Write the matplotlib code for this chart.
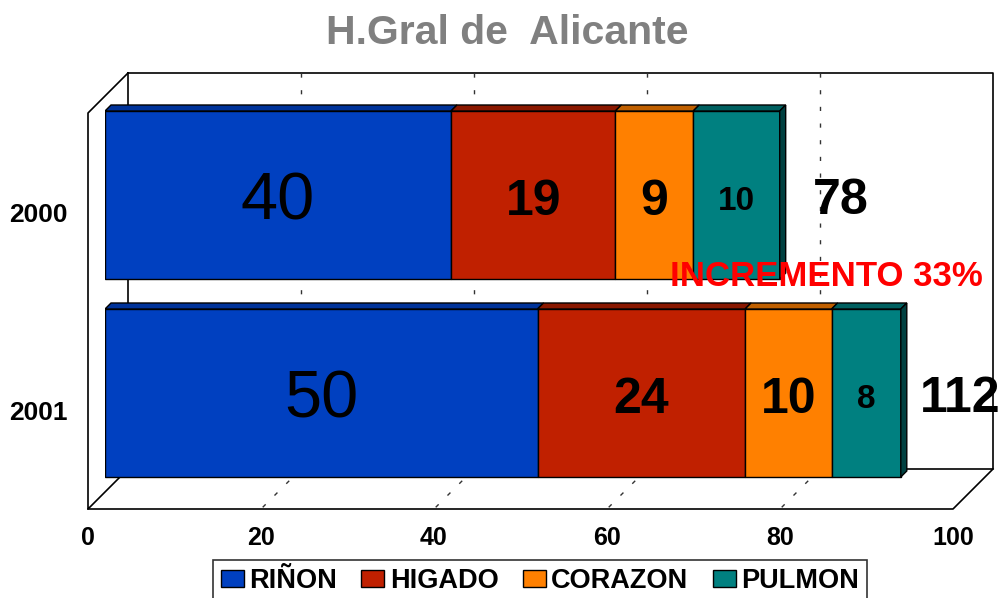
import numpy as np
import matplotlib
matplotlib.use("Agg")
import matplotlib.pyplot as plt
from matplotlib.patches import Polygon, Patch

plt.rcParams['font.family'] = ['Liberation Sans', 'DejaVu Sans']

# ==== Data ====
years = ["2000", "2001"]
organs = ["RIÑON", "HIGADO", "CORAZON", "PULMON"]
rinon = [40, 50]
higado = [19, 24]
corazon = [9, 10]
pulmon = [10, 8]
totals_text = ["78", "112"]
title = "H.Gral de  Alicante"
note = "INCREMENTO 33%"
xticks = [0, 20, 40, 60, 80, 100]

series = [rinon, higado, corazon, pulmon]
face = ["#0040C0", "#C02000", "#FF8000", "#008080"]
top = ["#00339A", "#8A1800", "#C06000", "#006060"]
side_dark = "#004040"
lab_size = [48, 36, 36, 24]
lab_weight = ["normal", "bold", "bold", "bold"]

W, H = 1006, 598
fig = plt.figure(figsize=(W / 100, H / 100), dpi=100)

# bar plane: x 0..100 -> px 105..970, y -0.5..1.5 -> px 96..492
L, R, T, B = 105, 970, 96, 492
ax = fig.add_axes([L / W, 1 - B / H, (R - L) / W, (B - T) / H])
ax.set_xlim(0, 100)
ax.set_ylim(1.5, -0.5)
ax.axis("off")

ppx = (R - L) / 100.0
ppy = (B - T) / 2.0


def P(x, y, d=0, dxp=0, dyp=0):
    # d = depth in px (towards back: right and up); dxp/dyp extra screen px (dyp down)
    return x + (d + dxp) / ppx, y - d / ppy + dyp / ppy


BACK, FRONT, BD = 23, -17, 6
y0, y1 = -0.5, 1.5

def line(pts, **kw):
    xs, ys = zip(*pts)
    ax.plot(xs, ys, clip_on=False, **kw)

# ==== 3D box ====
box_kw = dict(color="black", lw=1.2, zorder=1)
line([P(0, y0, BACK), P(100, y0, BACK), P(100, y1, BACK), P(0, y1, BACK), P(0, y0, BACK)], **box_kw)
line([P(0, y0, BACK), P(0, y0, FRONT), P(0, y1, FRONT), P(0, y1, BACK)], **box_kw)
line([P(0, y1, FRONT), P(100, y1, FRONT), P(100, y1, BACK)], color="black", lw=1.2, zorder=6)

grid_kw = dict(color="#333333", lw=1, ls=(0, (3, 9)), zorder=1)
for gx in xticks[1:-1]:
    line([P(gx, y0, BACK), P(gx, y1, BACK)], **grid_kw)
    line([P(gx, y1, BACK), P(gx, y1, FRONT)], **grid_kw)

# ==== Bars ====
h = 168 / 198.0
ypos = np.arange(len(years))
left = np.zeros(len(years))
for k, vals in enumerate(series):
    vals = np.array(vals, dtype=float)
    ax.barh(ypos, vals, left=left, height=h, color=face[k], edgecolor="black",
            lw=1, zorder=3, label=organs[k])
    for i in range(len(years)):
        xa, xb = left[i], left[i] + vals[i]
        yt = ypos[i] - h / 2
        ax.add_patch(Polygon([(xa, yt), (xb, yt), P(xb, yt, BD), P(xa, yt, BD)],
                             closed=True, fc=top[k], ec="black", lw=1, zorder=3))
        if k == len(series) - 1:
            yb = ypos[i] + h / 2
            ax.add_patch(Polygon([(xb, yt), P(xb, yt, BD), P(xb, yb, BD), (xb, yb)],
                                 closed=True, fc=side_dark, ec="black", lw=1, zorder=3))
        ax.text((xa + xb) / 2, ypos[i] + 7 / ppy, str(int(vals[i])), ha="center", va="center",
                fontsize=lab_size[k], fontweight=lab_weight[k], color="black", zorder=5)
    left += vals

# totals
gaps = [33, 19]
for i in range(len(years)):
    tx, ty = P(left[i], ypos[i], 0, gaps[i], 6)
    ax.text(tx, ty, totals_text[i], ha="left", va="center", fontsize=36,
            fontweight="bold", color="black", zorder=5, clip_on=False)

# ==== Axis labels ====
for gx in xticks:
    tx, ty = P(gx, y1, FRONT, 0, 29)
    ax.text(tx, ty, str(gx), ha="center", va="center", fontsize=18,
            fontweight="bold", clip_on=False)
for i, yl in enumerate(years):
    tx, ty = P(0, ypos[i], FRONT, -20, 3)
    ax.text(tx, ty, yl, ha="right", va="center", fontsize=19,
            fontweight="bold", clip_on=False)

fig.text(507 / W, 1 - 33 / H, title, ha="center", va="center", fontsize=29.5,
         fontweight="bold", color="#808080")
fig.text(670 / W, 1 - 277 / H, note, ha="left", va="center", fontsize=25,
         fontweight="bold", color="#FF0000", zorder=10)

handles = [Patch(fc=face[k], ec="black", lw=1, label=organs[k]) for k in range(len(organs))]
leg = fig.legend(handles=handles, loc="upper center", bbox_to_anchor=(540 / W, 1 - 560 / H),
                 ncol=4, frameon=True, fancybox=False, edgecolor="black",
                 prop=dict(size=19.5, weight="bold"), handlelength=0.85, handleheight=0.6,
                 handletextpad=0.2, columnspacing=0.9, borderpad=0.3, borderaxespad=0)
leg.get_frame().set_linewidth(1.2)

plt.savefig("out.png", dpi=100)
plt.close()
